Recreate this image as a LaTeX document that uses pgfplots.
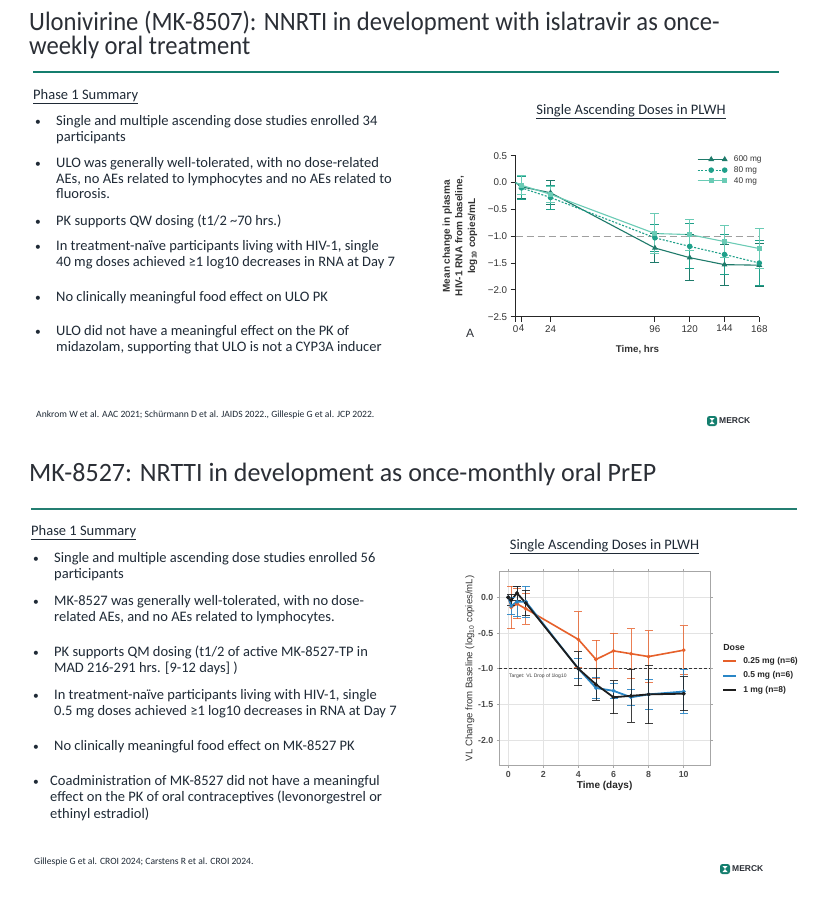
\documentclass[border=0pt]{standalone}
\usepackage{pgfplots}
\pgfplotsset{compat=1.18}
\usepackage{fontspec}
\setmainfont{Carlito}
\newfontfamily\lsans{Liberation Sans}
\newfontfamily\titlef[FakeStretch=0.93]{Carlito}
\newfontfamily\titleg[FakeStretch=0.98]{Carlito}
\newcommand{\fs}[1]{\fontsize{#1}{#1}\selectfont}
\definecolor{txt}{HTML}{1F2A36}
\definecolor{ttl}{HTML}{2B2F36}
\definecolor{rule}{HTML}{147E6E}
\definecolor{cA}{HTML}{1E7A6A}
\definecolor{cB}{HTML}{1FA08A}
\definecolor{cC}{HTML}{6ACBB5}
\definecolor{cOr}{HTML}{E6602A}
\definecolor{cBl}{HTML}{2A86C6}
\definecolor{cBk}{HTML}{1E1E1E}
\newcommand{\tl}[3]{\node[anchor=base west,inner sep=0pt,text=txt] at (#1,-#2) {\fs{14.5}#3};}
\newcommand{\bu}[2]{\node[anchor=base west,inner sep=0pt,text=txt] at (#1,-#2) {\fs{11.5}•};}
\begin{document}
\begin{tikzpicture}[x=1pt,y=1pt]
\fill[white] (0,0) rectangle (817,-899);
\path[use as bounding box] (0,0) rectangle (817,-899);
% ---------- top slide ----------
\node[anchor=base west,inner sep=0pt,text=ttl] at (29,-31) {\titlef\fs{26.5}Ulonivirine (MK-8507): NNRTI in development with islatravir as once-};
\node[anchor=base west,inner sep=0pt,text=ttl] at (29,-55) {\titlef\fs{26.5}weekly oral treatment};
\fill[rule] (33,-70.5) rectangle (779,-72.5);
\node[anchor=base west,inner sep=0pt,text=txt] at (33,-99.3) {\fs{14.5}\underline{Phase 1 Summary}};
\bu{35}{125.7}\tl{56}{125.7}{Single and multiple ascending dose studies enrolled 34}
\tl{56}{141.7}{participants}
\bu{35}{167.3}\tl{56}{167.3}{ULO was generally well-tolerated, with no dose-related}
\tl{56}{183.3}{AEs, no AEs related to lymphocytes and no AEs related to}
\tl{56}{198.7}{fluorosis.}
\bu{35}{225}\tl{56}{225}{PK supports QW dosing (t1/2 \textasciitilde70 hrs.)}
\bu{35}{250.7}\tl{56}{250.7}{In treatment-naïve participants living with HIV-1, single}
\tl{56}{266.7}{40 mg doses achieved ≥1 log10 decreases in RNA at Day 7}
\bu{35}{301}\tl{56}{301}{No clinically meaningful food effect on ULO PK}
\bu{35}{335}\tl{56}{335}{ULO did not have a meaningful effect on the PK of}
\tl{56}{351}{midazolam, supporting that ULO is not a CYP3A inducer}
\node[anchor=base west,inner sep=0pt,text=txt] at (36,-417.3) {\fs{9.6}Ankrom W et al. AAC 2021; Schürmann D et al. JAIDS 2022., Gillespie G et al. JCP 2022.};
\fill[rule,rounded corners=2.5pt] (707,-416) rectangle (717,-426);
\fill[white] (709.5,-418) -- (714.5,-418) -- (712,-421) -- cycle;
\fill[white] (709.5,-424) -- (714.5,-424) -- (712,-421) -- cycle;
\node[anchor=west,inner sep=0pt,text=ttl] at (719,-421) {\lsans\bfseries\fs{8.5}MERCK};
\node[anchor=base,inner sep=0pt,text=txt] at (631,-114) {\fs{14.5}\underline{Single Ascending Doses in PLWH}};
\node[anchor=center,inner sep=0pt,text=ttl] at (470,-333) {\lsans\fs{12}A};
% ---------- chart 1 ----------
\begin{axis}[at={(515.7pt,-155.7pt)},anchor=north west,scale only axis,
  width=243.6pt,height=161pt,
  xmin=0,xmax=168,ymin=-2.5,ymax=0.5,
  /pgf/number format/assume math mode=true,
  axis lines=left,axis line style={-,line width=1pt,black!85},
  xtick={0,4,24,96,120,144,168},
  ytick={-2.5,-2,-1.5,-1,-0.5,0,0.5},
  yticklabels={−2.5,−2.0,−1.5,−1.0,−0.5,0.0,0.5},
  tick align=outside,major tick length=5pt,
  tick style={line width=1pt,black!85},
  ticklabel style={font=\lsans\fs{9.8},text=black!80},
  xlabel={Time, hrs},
  xlabel style={at={(axis description cs:0.5,-0.207)},anchor=center,font=\lsans\bfseries\fs{9.8},text=black!80},
  ylabel={Mean change in plasma\\HIV-1 RNA from baseline,\\log\textsubscript{10} copies/mL},
  ylabel style={at={(axis description cs:-0.229,0.5)},anchor=center,align=center,font=\lsans\bfseries\fontsize{10}{12.6}\selectfont,text=black!80},
  legend style={at={(axis description cs:0.74,1.02)},anchor=north west,draw=none,fill=none,
    font=\lsans\fs{8.3},text=black!80,row sep=-0.5pt,column sep=5pt,inner sep=1pt},
  legend cell align=left,
  legend image code/.code={\draw[mark repeat=2,mark phase=2,#1] plot coordinates {(0pt,0pt)(13.5pt,0pt)(27pt,0pt)};},
  clip=false]
\addplot[gray!75,dash pattern=on 7pt off 4pt,line width=1pt,forget plot] coordinates {(0,-1) (168,-1)};
\addplot[cA,line width=1.1pt,mark=triangle*,mark size=2.3pt,mark indices={2,3,4,5,6,7}] coordinates {
(0,0) (4,-0.08) (24,-0.19) (96,-1.22) (120,-1.40) (144,-1.53) (168,-1.54)};
\addlegendentry{600 mg}
\addplot[cB,line width=1.1pt,dash pattern=on 2pt off 1.6pt,mark=*,mark size=2.2pt,mark options={solid},mark indices={2,3,4,5,6,7}] coordinates {
(0,0) (4,-0.10) (24,-0.28) (96,-1.03) (120,-1.19) (144,-1.34) (168,-1.50)};
\addlegendentry{80 mg}
\addplot[cC,line width=1.1pt,mark=square*,mark size=2pt,mark indices={2,3,4,5,6,7}] coordinates {
(0,0) (4,-0.05) (24,-0.22) (96,-0.95) (120,-0.97) (144,-1.10) (168,-1.23)};
\addlegendentry{40 mg}
% error bars
\addplot[draw=none,mark=none,forget plot,error bars/.cd,y dir=both,y explicit,
  error bar style={draw=cA,solid,line width=1pt},error mark options={rotate=90,draw=cA,solid,mark size=4.5pt,line width=1pt}]
  table[x=x,y=y,y error=e]{
x y e
4 -0.08 0.21
24 -0.19 0.22
96 -1.22 0.27
120 -1.40 0.43
144 -1.53 0.38
168 -1.54 0.40
};
\addplot[draw=none,mark=none,forget plot,error bars/.cd,y dir=both,y explicit,
  error bar style={draw=cB,solid,line width=1pt},error mark options={rotate=90,draw=cB,solid,mark size=4.5pt,line width=1pt}]
  table[x=x,y=y,y error=e]{
x y e
4 -0.10 0.22
24 -0.28 0.22
96 -1.03 0.25
120 -1.19 0.42
144 -1.34 0.38
168 -1.50 0.42
};
\addplot[draw=none,mark=none,forget plot,error bars/.cd,y dir=both,y explicit,
  error bar style={draw=cC,solid,line width=1pt},error mark options={rotate=90,draw=cC,solid,mark size=4.5pt,line width=1pt}]
  table[x=x,y=y,y error=e]{
x y e
4 -0.05 0.18
24 -0.22 0.15
96 -0.95 0.37
120 -0.97 0.29
144 -1.10 0.30
168 -1.23 0.37
};
\end{axis}
% ---------- bottom slide ----------
\node[anchor=base west,inner sep=0pt,text=ttl] at (29,-481) {\titleg\fs{26.5}MK-8527: NRTTI in development as once-monthly oral PrEP};
\fill[rule!85!gray] (31,-508) rectangle (797,-510);
\node[anchor=base west,inner sep=0pt,text=txt] at (31,-535.7) {\fs{14.5}\underline{Phase 1 Summary}};
\bu{33}{562.3}\tl{54}{562.3}{Single and multiple ascending dose studies enrolled 56}
\tl{54}{578.3}{participants}
\bu{33}{605.7}\tl{54}{605.7}{MK-8527 was generally well-tolerated, with no dose-}
\tl{54}{621}{related AEs, and no AEs related to lymphocytes.}
\bu{33}{656.7}\tl{54}{656.7}{PK supports QM dosing (t1/2 of active MK-8527-TP in}
\tl{54}{672.7}{MAD 216-291 hrs. [9-12 days] )}
\bu{33}{699}\tl{54}{699}{In treatment-naïve participants living with HIV-1, single}
\tl{54}{715}{0.5 mg doses achieved ≥1 log10 decreases in RNA at Day 7}
\bu{33}{750.3}\tl{54}{750.3}{No clinically meaningful food effect on MK-8527 PK}
\bu{33}{785.7}\tl{50}{785.7}{Coadministration of MK-8527 did not have a meaningful}
\tl{50}{801.7}{effect on the PK of oral contraceptives (levonorgestrel or}
\tl{50}{818.3}{ethinyl estradiol)}
\node[anchor=base west,inner sep=0pt,text=txt] at (34,-864.3) {\fs{9.6}Gillespie G et al. CROI 2024; Carstens R et al. CROI 2024.};
\fill[rule,rounded corners=2.5pt] (720,-864) rectangle (730,-874);
\fill[white] (722.5,-866) -- (727.5,-866) -- (725,-869) -- cycle;
\fill[white] (722.5,-872) -- (727.5,-872) -- (725,-869) -- cycle;
\node[anchor=west,inner sep=0pt,text=ttl] at (732,-869) {\lsans\bfseries\fs{8.5}MERCK};
\node[anchor=base,inner sep=0pt,text=txt] at (604.5,-549) {\fs{14.5}\underline{Single Ascending Doses in PLWH}};
% ---------- chart 2 ----------
\begin{axis}[at={(499.3pt,-571.7pt)},anchor=north west,scale only axis,
  width=210.7pt,height=193.3pt,
  xmin=-0.51,xmax=11.5,ymin=-2.35,ymax=0.36,
  /pgf/number format/assume math mode=true,
  xtick={0,2,4,6,8,10},
  ytick={-2,-1.5,-1,-0.5,0},
  yticklabels={-2.0,-1.5,-1.0,-0.5,0.0},
  grid=major,grid style={gray!22,line width=0.8pt},
  axis line style={gray!70,line width=1pt},
  tick align=outside,major tick length=2.5pt,
  tick style={gray!70,line width=0.8pt},
  ticklabel style={font=\lsans\bfseries\fs{8.8},text=black!70},
  xlabel={Time (days)},
  xlabel style={at={(axis description cs:0.5,-0.109)},anchor=center,font=\lsans\bfseries\fs{10},text=black!85},
  ylabel={VL Change from Baseline (log\textsubscript{10} copies/mL)},
  ylabel style={at={(axis description cs:-0.139,0.5)},anchor=center,font=\lsans\fs{9.6},text=black!80},
  legend style={at={(axis description cs:1.062,0.568)},anchor=north west,draw=none,fill=none,
    font=\lsans\bfseries\fs{8.5},text=black!85,row sep=2.6pt,column sep=5pt,inner sep=0pt},
  legend cell align=left,
  legend image code/.code={\fill[#1,draw=none,fill opacity=1] (0pt,-1pt) rectangle (13pt,1pt);},
  clip=false]
\addplot[cOr,line width=1.6pt,mark=*,mark size=0.9pt] coordinates {
(0,0) (0.17,-0.14) (0.5,-0.09) (1,-0.16) (4,-0.59) (5,-0.87) (6,-0.75) (7,-0.79) (8,-0.83) (10,-0.74)};
\addlegendentry{0.25 mg (n=6)}
\addplot[cBl,line width=1.8pt,mark=*,mark size=0.9pt] coordinates {
(0,0) (0.17,-0.12) (0.5,-0.06) (1,-0.06) (4,-1.00) (5,-1.27) (6,-1.31) (7,-1.40) (8,-1.36) (10,-1.32)};
\addlegendentry{0.5 mg (n=6)}
\addplot[cBk,line width=1.8pt,mark=*,mark size=0.9pt] coordinates {
(0,0) (0.17,-0.04) (0.5,0.06) (1,-0.08) (4,-1.00) (5,-1.22) (6,-1.40) (7,-1.38) (8,-1.36) (10,-1.35)};
\addlegendentry{1 mg (n=8)}
\addplot[black!80,dash pattern=on 3pt off 2pt,line width=0.9pt,forget plot] coordinates {(-0.51,-1) (11.5,-1)};
\addplot[draw=none,mark=none,forget plot,error bars/.cd,y dir=both,y explicit,
  error bar style={draw=cOr,draw opacity=0.8,line width=0.9pt},error mark options={rotate=90,draw=cOr,draw opacity=0.8,mark size=4pt,line width=0.9pt}]
  table[x=x,y=y,y error=e]{
x y e
0.17 -0.14 0.30
0.5 -0.09 0.21
1 -0.16 0.22
4 -0.59 0.39
5 -0.87 0.27
6 -0.75 0.25
7 -0.79 0.35
8 -0.83 0.36
10 -0.74 0.34
};
\addplot[draw=none,mark=none,forget plot,error bars/.cd,y dir=both,y explicit,
  error bar style={draw=cBl,draw opacity=0.9,line width=0.9pt},error mark options={rotate=90,draw=cBl,draw opacity=0.9,mark size=4pt,line width=0.9pt}]
  table[x=x,y=y,y error=e]{
x y e
0.17 -0.12 0.12
0.5 -0.06 0.21
1 -0.06 0.22
4 -1.00 0.14
5 -1.27 0.15
6 -1.31 0.11
7 -1.40 0.11
8 -1.36 0.21
10 -1.32 0.31
};
\addplot[draw=none,mark=none,forget plot,error bars/.cd,y dir=both,y explicit,
  error bar style={draw=cBk,draw opacity=0.85,line width=0.9pt},error mark options={rotate=90,draw=cBk,draw opacity=0.85,mark size=4pt,line width=0.9pt}]
  table[x=x,y=y,y error=e]{
x y e
0.17 -0.04 0.08
0.5 0.06 0.10
1 -0.08 0.18
4 -1.00 0.24
5 -1.22 0.22
6 -1.40 0.23
7 -1.38 0.37
8 -1.36 0.41
10 -1.35 0.24
};
\node[anchor=west,inner sep=0pt,text=black!75] at (axis cs:0.04,-1.10) {\lsans\fs{5}Target: VL Drop of 1log10};
\node[anchor=base west,inner sep=0pt,text=black!85] at (axis description cs:1.062,0.59) {\lsans\bfseries\fs{8.8}Dose};
\end{axis}
\end{tikzpicture}
\end{document}
